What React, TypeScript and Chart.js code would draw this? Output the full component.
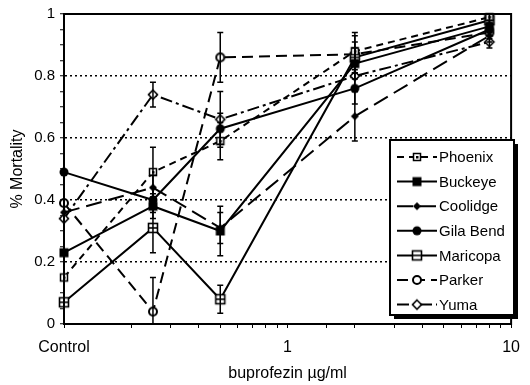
import React, { useEffect, useRef } from 'react';
import { Chart, registerables } from 'chart.js';
Chart.register(...registerables);

// ---- data ----
const doses = [0.1, 0.25, 0.5, 2, 8]; // 0.1 = Control
const seriesNames = ['Phoenix', 'Buckeye', 'Coolidge', 'Gila Bend', 'Maricopa', 'Parker', 'Yuma'];
const phoenix = [0.15, 0.49, 0.59, 0.88, 0.99];
const buckeye = [0.23, 0.38, 0.3, 0.84, 0.96];
const coolidge = [0.36, 0.44, 0.31, 0.67, 0.93];
const gilaBend = [0.49, 0.4, 0.63, 0.76, 0.95];
const maricopa = [0.07, 0.31, 0.08, 0.86, 0.98];
const parker = [0.39, 0.04, 0.86, 0.87, 0.94];
const yuma = [0.34, 0.74, 0.66, 0.8, 0.91];
const phoenixErr = [0, 0.08, 0.06, 0.06, 0.02];
const buckeyeErr = [0, 0.04, 0.08, 0.05, 0.02];
const coolidgeErr = [0, 0.04, 0.05, 0.08, 0.02];
const gilaBendErr = [0, 0.04, 0.05, 0.05, 0.02];
const maricopaErr = [0, 0.08, 0.045, 0.05, 0.02];
const parkerErr = [0, 0.11, 0.08, 0.06, 0.02];
const yumaErr = [0, 0.04, 0.09, 0.05, 0.02];
const xTickLabels: Record<string, string> = { '-1': 'Control', '0': '1', '1': '10' };
const yLabelStep = 0.2;
const xTitle = 'buprofezin \u00b5g/ml';
const yTitle = '% Mortality';

const FONT = "'Liberation Sans', Arial, Helvetica, sans-serif";

function makeMarker(kind: string): HTMLCanvasElement {
  const c = document.createElement('canvas');
  c.width = 14; c.height = 14;
  const g = c.getContext('2d')!;
  g.strokeStyle = '#000'; g.fillStyle = '#000';
  const cx = 7, cy = 7;
  if (kind === 'Phoenix') {
    g.fillStyle = '#fff'; g.fillRect(3.5, 3.5, 7, 7);
    g.lineWidth = 1.5; g.strokeRect(3.5, 3.5, 7, 7);
    g.fillStyle = '#000'; g.fillRect(6, 6, 2.5, 2.5);
  } else if (kind === 'Buckeye') {
    g.fillRect(2.5, 2.5, 9, 9);
  } else if (kind === 'Coolidge') {
    g.beginPath(); g.moveTo(cx, cy - 4); g.lineTo(cx + 4, cy); g.lineTo(cx, cy + 4); g.lineTo(cx - 4, cy); g.closePath(); g.fill();
  } else if (kind === 'Gila Bend') {
    g.beginPath(); g.arc(cx, cy, 4.5, 0, Math.PI * 2); g.fill();
  } else if (kind === 'Maricopa') {
    g.fillStyle = '#fff'; g.fillRect(2.5, 2.5, 9, 9);
    g.lineWidth = 1.6; g.strokeRect(2.5, 2.5, 9, 9);
    g.beginPath(); g.moveTo(2.5, cy); g.lineTo(11.5, cy); g.stroke();
  } else if (kind === 'Parker') {
    g.fillStyle = '#fff'; g.beginPath(); g.arc(cx, cy, 4, 0, Math.PI * 2); g.fill();
    g.lineWidth = 2; g.stroke();
  } else if (kind === 'Yuma') {
    g.fillStyle = '#fff';
    g.beginPath(); g.moveTo(cx, cy - 4.5); g.lineTo(cx + 4.5, cy); g.lineTo(cx, cy + 4.5); g.lineTo(cx - 4.5, cy); g.closePath();
    g.fill(); g.lineWidth = 1.6; g.stroke();
  }
  return c;
}

const seriesValues = [phoenix, buckeye, coolidge, gilaBend, maricopa, parker, yuma];
const seriesErrs = [phoenixErr, buckeyeErr, coolidgeErr, gilaBendErr, maricopaErr, parkerErr, yumaErr];
const seriesDash: number[][] = [[7, 5], [], [16, 7], [], [], [11, 6], [12, 4, 3, 4]];

const errorBarPlugin = {
  id: 'errorBars',
  afterDatasetsDraw(chart: any) {
    const { ctx, scales } = chart;
    const xs = scales.x, ys = scales.y;
    ctx.save();
    ctx.strokeStyle = '#000';
    ctx.lineWidth = 1.5;
    chart.data.datasets.forEach((ds: any) => {
      const errs: number[] = ds.errs;
      ds.data.forEach((p: any, i: number) => {
        const e = errs[i];
        if (!e) return;
        const x = xs.getPixelForValue(p.x);
        const y1 = ys.getPixelForValue(Math.min(1, p.y + e));
        const y2 = ys.getPixelForValue(Math.max(0, p.y - e));
        ctx.beginPath();
        ctx.moveTo(x, y1); ctx.lineTo(x, y2);
        ctx.moveTo(x - 3, y1); ctx.lineTo(x + 3, y1);
        ctx.moveTo(x - 3, y2); ctx.lineTo(x + 3, y2);
        ctx.stroke();
      });
    });
    ctx.restore();
  },
};

const frameLegendPlugin = {
  id: 'frameLegend',
  afterDraw(chart: any) {
    const { ctx, chartArea } = chart;
    ctx.save();
    ctx.strokeStyle = '#000';
    ctx.lineWidth = 2;
    ctx.strokeRect(chartArea.left, chartArea.top, chartArea.right - chartArea.left, chartArea.bottom - chartArea.top);
    // legend box
    const bx = 390, by = 140, bw = 124, bh = 175;
    ctx.fillStyle = '#000';
    ctx.fillRect(bx + 4, by + 4, bw, bh);
    ctx.fillStyle = '#fff';
    ctx.fillRect(bx, by, bw, bh);
    ctx.lineWidth = 2;
    ctx.strokeRect(bx, by, bw, bh);
    const rowH = 24.6;
    ctx.font = `15px ${FONT}`;
    ctx.textBaseline = 'middle';
    ctx.textAlign = 'left';
    chart.data.datasets.forEach((ds: any, i: number) => {
      const y = by + 17 + i * rowH;
      ctx.strokeStyle = '#000';
      ctx.lineWidth = 2;
      ctx.setLineDash(ds.borderDash || []);
      ctx.beginPath(); ctx.moveTo(bx + 7, y); ctx.lineTo(bx + 47, y); ctx.stroke();
      ctx.setLineDash([]);
      const m = ds.pointStyle as HTMLCanvasElement;
      ctx.drawImage(m, bx + 27 - m.width / 2, y - m.height / 2);
      ctx.fillStyle = '#000';
      ctx.fillText(ds.label, bx + 49, y + 1);
    });
    ctx.restore();
  },
};

export default function App() {
  const ref = useRef<HTMLCanvasElement>(null);
  useEffect(() => {
    document.body.style.margin = '0';
    Chart.defaults.font.family = FONT;
    Chart.defaults.color = '#000';
    const datasets = seriesNames.map((name, i) => ({
      label: name,
      data: doses.map((d, j) => ({ x: d, y: seriesValues[i][j] })),
      errs: seriesErrs[i],
      borderColor: '#000',
      backgroundColor: '#000',
      borderWidth: 2,
      borderDash: seriesDash[i],
      pointStyle: makeMarker(name),
      pointRadius: 5,
      tension: 0,
      clip: false,
    }));
    const chart = new Chart(ref.current!, {
      type: 'line',
      data: { datasets } as any,
      options: {
        animation: false,
        responsive: false,
        layout: { padding: { top: 11, right: 8, left: 0, bottom: 0 } },
        plugins: { legend: { display: false }, tooltip: { enabled: false } },
        scales: {
          x: {
            type: 'logarithmic',
            min: 0.1,
            max: 10,
            afterFit: (s: any) => { s.height = 61; },
            border: { color: '#000', width: 2 },
            grid: { drawOnChartArea: false, drawTicks: true, tickLength: 4, tickColor: '#000', tickWidth: 1 },
            ticks: {
              autoSkip: false,
              maxRotation: 0,
              padding: 10,
              font: { size: 16 },
              callback: (v: any) => {
                const l = Math.log10(Number(v));
                const r = Math.round(l);
                if (Math.abs(l - r) < 1e-6 && xTickLabels[String(r)] !== undefined) return xTickLabels[String(r)];
                return '';
              },
            },
            title: { display: true, text: xTitle, font: { size: 16 }, padding: { top: 0, bottom: 2 } },
          },
          y: {
            min: 0,
            max: 1,
            afterFit: (s: any) => { s.width = 64; },
            border: { color: '#000', width: 2, dash: [2, 3] },
            grid: {
              color: (c: any) => {
                const v = c.tick ? c.tick.value : 0;
                const k = v / yLabelStep;
                return Math.abs(k - Math.round(k)) < 1e-6 && v > 0.01 && v < 0.99 ? '#000' : 'rgba(0,0,0,0)';
              },
              lineWidth: 1.5,
              drawTicks: true,
              tickLength: 4,
              tickColor: '#000',
              tickWidth: 1,
            },
            ticks: {
              stepSize: 0.05,
              autoSkip: false,
              padding: 5,
              font: { size: 15 },
              callback: (v: any) => {
                const k = Number(v) / yLabelStep;
                if (Math.abs(k - Math.round(k)) < 1e-6) return String(Math.round(k * yLabelStep * 10) / 10);
                return '';
              },
            },
            title: { display: true, text: yTitle, font: { size: 16 }, padding: { top: 8, bottom: 0 } },
          },
        },
      },
      plugins: [errorBarPlugin, frameLegendPlugin],
    } as any);
    return () => chart.destroy();
  }, []);
  return <canvas ref={ref} width={530} height={385} style={{ display: 'block', width: 530, height: 385 }} />;
}
